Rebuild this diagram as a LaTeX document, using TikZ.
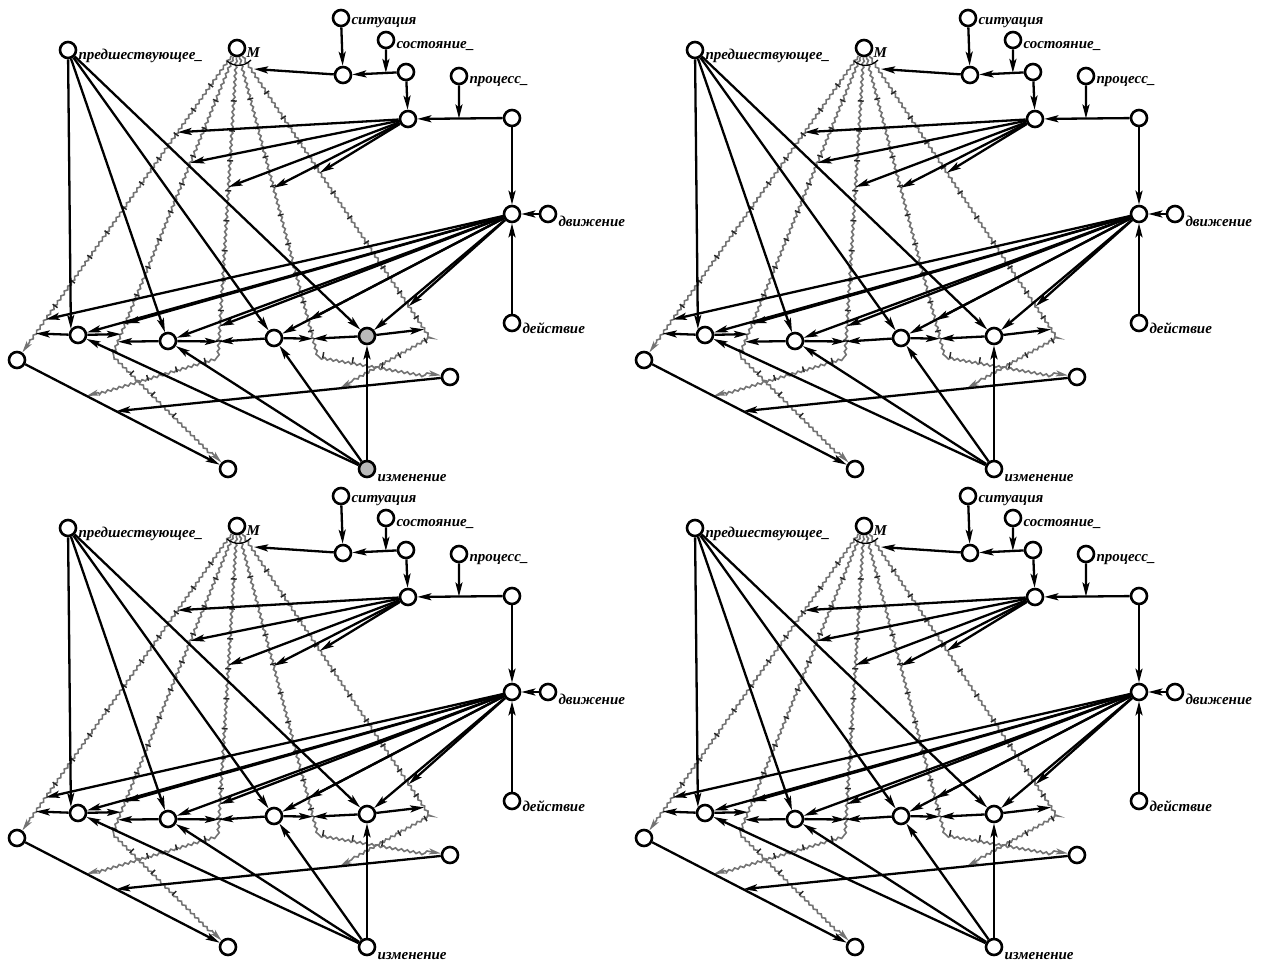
\documentclass[tikz,border=0pt]{standalone}
\usepackage{fontspec}
\setmainfont{Liberation Serif}
\usetikzlibrary{arrows.meta,positioning,calc,decorations.pathmorphing,decorations.markings}

\begin{document}
\begin{tikzpicture}[
            x=1pt, y=-1pt,
            vert/.style={draw, circle, line width=2.6pt, minimum size=16pt, inner sep=0pt, fill=white},
            lbl/.style={font=\fontsize{15}{17}\selectfont\bfseries\itshape, inner sep=0pt},
            arc/.style={-{Stealth[length=14pt, width=7pt, inset=3pt]}, line width=2.3pt},
            wave/.style={draw=black!55, line width=1.6pt, -{Stealth[length=12pt, width=6pt, inset=3pt]},
                decorate, decoration={snake, amplitude=1.1pt, segment length=6pt, pre length=2pt, post length=11pt}},
            ticks/.style={decorate, decoration={markings,
                mark=between positions 0.1 and 0.9 step 30pt with {\draw[line width=1.5pt, black!85] (0,-3pt) -- (0,3pt);}}}
        ]
        \useasboundingbox (0,0) rectangle (1261,961);

        \foreach \dx/\dy/\hl in {0/0/gray!55, 627/0/white, 0/478/white, 627/478/white}{
        \begin{scope}[shift={(\dx,\dy)}]
        % vertices
        \node[vert] (pred) at (68,50) {};
        \node[vert] (M) at (237,48) {};
        \node[vert] (sit) at (341,18) {};
        \node[vert] (A) at (343,75) {};
        \node[vert] (sost) at (386,40) {};
        \node[vert] (B) at (406,72) {};
        \node[vert] (proc) at (459,76) {};
        \node[vert] (C) at (408,119) {};
        \node[vert] (D) at (512,118) {};
        \node[vert] (E) at (512,214) {};
        \node[vert] (dvi) at (548,214) {};
        \node[vert] (dei) at (512,323) {};
        \node[vert] (L0) at (17,360) {};
        \node[vert] (N1) at (78,335) {};
        \node[vert] (N2) at (168,341) {};
        \node[vert] (N3) at (274,338) {};
        \node[vert, fill=\hl] (N4) at (367,336) {};
        \node[vert] (R) at (450,377) {};
        \node[vert] (Bt) at (228,469) {};
        \node[vert, fill=\hl] (izm) at (367,469) {};

        % labels
        \node[lbl, right=1pt of pred, yshift=-6pt] (predl) {предшествующее\_};
        \node[lbl, right=0pt of M, yshift=-5pt] (Ml) {M};
        \node[lbl, right=1pt of sit, yshift=-5pt] (sitl) {ситуация};
        \node[lbl, right=1pt of sost, yshift=-6pt] (sostl) {состояние\_};
        \node[lbl, right=1pt of proc, yshift=-6pt] (procl) {процесс\_};
        \node[lbl, right=1pt of dvi, yshift=-7pt] (dvil) {движение};
        \node[lbl, right=1pt of dei, yshift=-5pt] (deil) {действие};
        \node[lbl, right=1pt of izm, yshift=-9pt] (izml) {изменение};

        % bends of the wavy arcs
        \coordinate (c2) at (113,354);
        \coordinate (c3) at (218,357);
        \coordinate (c4) at (317,354);
        \coordinate (c5) at (430,338);
        \coordinate (x1) at ($(L0)!0.33!(Bt)$);
        \coordinate (x2) at ($(L0)!0.47!(Bt)$);
        \coordinate (x3) at ($(R)!0.33!(x2)$);
        \coordinate (mb) at (254,69);
        \coordinate (ba) at ($(B)!0.32!(A)$);
        \coordinate (dc) at ($(D)!0.51!(C)$);

        % points on the wavy arcs
        \coordinate (w1a) at ($(M)!0.27!(L0)$);
        \coordinate (w1b) at ($(M)!0.87!(L0)$);
        \coordinate (w1c) at ($(M)!0.915!(L0)$);
        \coordinate (w2a) at ($(M)!0.375!(c2)$);
        \coordinate (w2b) at ($(M)!0.9!(c2)$);
        \coordinate (w2c) at ($(M)!0.935!(c2)$);
        \coordinate (w2d) at ($(M)!0.96!(c2)$);
        \coordinate (w3a) at ($(M)!0.45!(c3)$);
        \coordinate (w3b) at ($(M)!0.9!(c3)$);
        \coordinate (w3c) at ($(M)!0.95!(c3)$);
        \coordinate (w4a) at ($(M)!0.457!(c4)$);
        \coordinate (w4b) at ($(M)!0.89!(c4)$);
        \coordinate (w4c) at ($(M)!0.95!(c4)$);
        \coordinate (w5a) at ($(M)!0.43!(c5)$);
        \coordinate (w5b) at ($(M)!0.89!(c5)$);
        \coordinate (w5c) at ($(M)!0.97!(c5)$);

        % wavy arcs from M
        \draw[wave] (M) -- (L0);
        \draw[wave] (M) -- (c2) -- (Bt);
        \draw[wave] (M) -- (c3) -- (x1);
        \draw[wave] (M) -- (c4) -- (R);
        \draw[wave] (M) -- (c5) -- (x3);
        \path[ticks] (M) -- (L0);
        \path[ticks] (M) -- (c2) -- (Bt);
        \path[ticks] (M) -- (c3) -- (x1);
        \path[ticks] (M) -- (c4) -- (R);
        \path[ticks] (M) -- (c5) -- (x3);
        \draw[line width=1.3pt] (227,61) .. controls (234,67) and (244,67) .. (251,60);

        % upper part
        \draw[arc] (sit) -- (A);
        \draw[arc] (B) -- (A);
        \draw[arc] (sost) -- (ba);
        \draw[arc] (A) -- (mb);
        \draw[arc] (B) -- (C);
        \draw[arc] (D) -- (C);
        \draw[arc] (proc) -- (dc);
        \draw[arc] (D) -- (E);
        \draw[arc] (dvi) -- (E);
        \draw[arc] (dei) -- (E);
        \foreach \t in {w1a,w2a,w3a,w4a,w5a}
            \draw[arc] (C) -- (\t);
        \foreach \t in {w1b,N1,w2b,N2,w3b,N3,w4b,N4,w5b}
            \draw[arc] (E) -- (\t);

        % row of vertices
        \draw[arc] (N1) -- (w1c);
        \draw[arc] (N1) -- (w2c);
        \draw[arc] (N2) -- (w2d);
        \draw[arc] (N2) -- (w3c);
        \draw[arc] (N3) -- (w3c);
        \draw[arc] (N3) -- (w4c);
        \draw[arc] (N4) -- (w4c);
        \draw[arc] (N4) -- (w5c);
        \draw[arc] (pred) -- (N1.140);
        \foreach \t in {N2,N3,N4}
            \draw[arc] (pred) -- (\t);
        \foreach \t in {N1,N2,N3,N4}
            \draw[arc] (izm) -- (\t);
        \draw[arc] (L0) -- (Bt);
        \draw[arc] (R) -- (x2);
        \end{scope}
        }
    \end{tikzpicture}
\end{document}
